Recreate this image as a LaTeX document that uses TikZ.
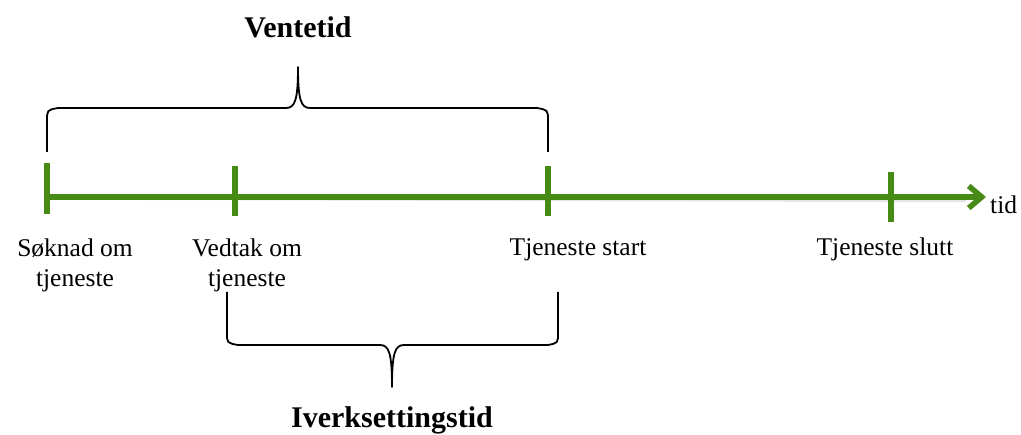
\documentclass[tikz,border=0pt]{standalone}
\usepackage{fontspec}
\setmainfont{Liberation Serif}
\usetikzlibrary{arrows.meta}
\definecolor{tlgreen}{RGB}{72,138,22}
\tikzset{
  axis/.style={line width=5.5pt, draw=tlgreen, -{Straight Barb[length=13pt,width=22pt]}},
  tickmark/.style={line width=5.5pt, draw=tlgreen},
  shadowline/.style={line width=5.5pt, draw=black, opacity=0.10},
  bracepath/.style={line width=1.8pt, draw=black, line join=round},
  lbl/.style={font=\fontsize{25.5}{30}\selectfont, inner sep=0pt, align=center, anchor=base},
  ttl/.style={font=\fontsize{30}{34}\selectfont\bfseries, inner sep=0pt, anchor=base},
}
\begin{document}
\begin{tikzpicture}[x=1pt,y=-1pt]
\useasboundingbox (0,0) rectangle (1021,435);
% timeline coordinates
\coordinate (t0) at (47,197);
\coordinate (tend) at (986,197);
\coordinate (a1) at (47,163);  \coordinate (a2) at (47,214);
\coordinate (b1) at (235,166); \coordinate (b2) at (235,216);
\coordinate (c1) at (548,166); \coordinate (c2) at (548,216);
\coordinate (d1) at (891,172); \coordinate (d2) at (891,222);
% soft shadow
\begin{scope}[shift={(1.5,2.5)}]
\draw[shadowline] (t0) -- (965,197);
\draw[shadowline] (a1) -- (a2);
\draw[shadowline] (b1) -- (b2);
\draw[shadowline] (c1) -- (c2);
\draw[shadowline] (d1) -- (d2);
\end{scope}
\draw[axis] (t0) -- (tend);
\draw[tickmark] (a1) -- (a2);
\draw[tickmark] (b1) -- (b2);
\draw[tickmark] (c1) -- (c2);
\draw[tickmark] (d1) -- (d2);
% labels
\node[lbl] (soknad) at (75,287) {Søknad om\\tjeneste};
\node[lbl] (vedtak) at (247,287) {Vedtak om\\tjeneste};
\node[lbl] (start) at (578,256) {Tjeneste start};
\node[lbl] (slutt) at (885,256) {Tjeneste slutt};
\node[lbl, anchor=base west] (tid) at (990,214) {tid};
% top brace
\draw[bracepath] (47,152) -- (47,121) .. controls (47,110) .. (58,108) -- (286,108)
  .. controls (295,108) and (298,100) .. (298,67)
  .. controls (298,100) and (301,108) .. (310,108) -- (537,108)
  .. controls (548,110) .. (548,121) -- (548,152);
\node[ttl] (vente) at (298,38) {Ventetid};
% bottom brace
\draw[bracepath] (227,292) -- (227,333) .. controls (227,343) .. (238,345) -- (380,345)
  .. controls (389,345) and (392,353) .. (392,387)
  .. controls (392,353) and (395,345) .. (404,345) -- (548,345)
  .. controls (558,343) .. (558,333) -- (558,292);
\node[ttl] (iverk) at (392,428) {Iverksettingstid};
\end{tikzpicture}
\end{document}
